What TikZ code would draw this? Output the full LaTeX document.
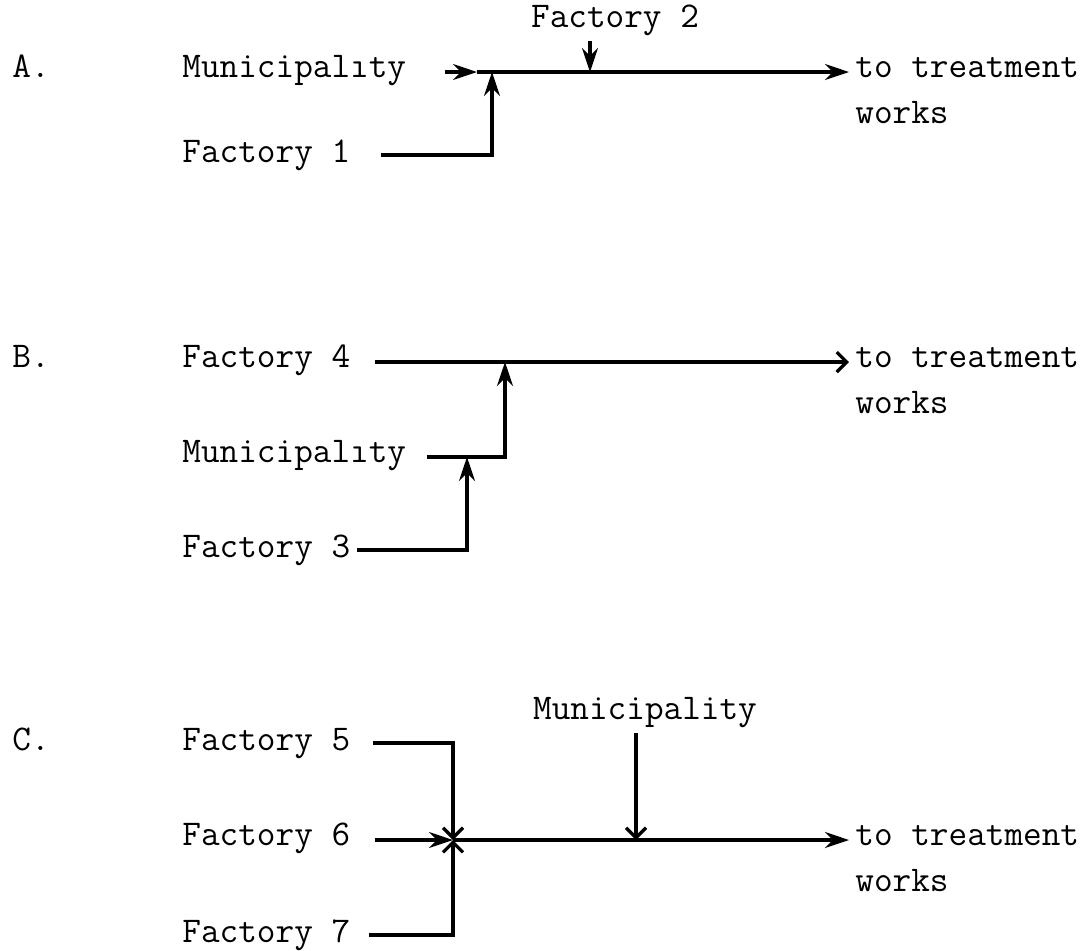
\documentclass[tikz,border=0pt]{standalone}
\usepackage{fontspec}
\usetikzlibrary{arrows.meta,positioning}

\begin{document}
\begin{tikzpicture}[
    x=0.5pt, y=-0.5pt,
    lbl/.style={font=\ttfamily\fontsize{18.1}{22}\selectfont, anchor=west,
                inner sep=3pt, text height=11pt, text depth=4pt},
    pipe/.style={line width=1.6pt},
    arr/.style={pipe, -{Stealth[length=12pt, width=8pt]}},
    barb/.style={pipe, -{Straight Barb[length=5pt, width=10pt]}}
  ]
    \useasboundingbox (0,0) rectangle (1089,950);

    % A: municipality first, two factories join
    \node[lbl] (secA) at (6,70) {A.};
    \node[lbl] (muniA) at (176,70) {Municipalıty};
    \node[lbl] (f1) at (176,155) {Factory 1};
    \node[lbl, anchor=center] (f2) at (615,20) {Factory 2};
    \node[lbl] (outA) at (849,70) {to treatment};
    \node[lbl, below=2pt of outA.south west, anchor=north west] (worksA) {works};
    \coordinate (jA0) at (477,72);
    \coordinate (jA1) at (492,72);
    \coordinate (jA2) at (590,72);

    \draw[arr, shorten <=16pt] (muniA.east |- jA0) -- (jA0);
    \draw[arr] (jA0) -- (outA.west |- jA0);
    \draw[arr, shorten <=12pt] (f1) -| (jA1);
    \draw[arr] (f2.south -| jA2) -- (jA2);

    % B: cascade into factory 4 sewer
    \node[lbl] (secB) at (6,360) {B.};
    \node[lbl] (f4) at (176,360) {Factory 4};
    \node[lbl] (muniB) at (176,455) {Municipalıty};
    \node[lbl] (f3) at (176,550) {Factory 3};
    \node[lbl] (outB) at (849,360) {to treatment};
    \node[lbl, below=2pt of outB.south west, anchor=north west] (worksB) {works};
    \coordinate (jB1) at (505,362);
    \coordinate (jB2) at (467,457);

    \draw[barb, shorten <=9pt] (f4.east |- jB1) -- (outB.west |- jB1);
    \draw[arr, shorten <=7pt] (muniB.east |- jB2) -| (jB1);
    \draw[arr] (f3) -| (jB2);

    % C: three factories meet, municipality downstream
    \node[lbl] (secC) at (6,743) {C.};
    \node[lbl] (f5) at (176,743) {Factory 5};
    \node[lbl] (f6) at (176,838) {Factory 6};
    \node[lbl] (f7) at (176,935) {Factory 7};
    \node[lbl, anchor=center] (muniC) at (645,712) {Municipality};
    \node[lbl] (outC) at (849,838) {to treatment};
    \node[lbl, below=2pt of outC.south west, anchor=north west] (worksC) {works};
    \coordinate (jC1) at (453,840);
    \coordinate (jC2) at (636,840);

    \draw[barb, shorten <=8pt] (f5) -| (jC1);
    \draw[arr, shorten <=9pt] (f6.east |- jC1) -- (jC1);
    \draw[barb, shorten <=6pt] (f7) -| (jC1);
    \draw[arr] (jC1) -- (outC.west |- jC1);
    \draw[barb] (muniC.south -| jC2) -- (jC2);
\end{tikzpicture}
\end{document}
